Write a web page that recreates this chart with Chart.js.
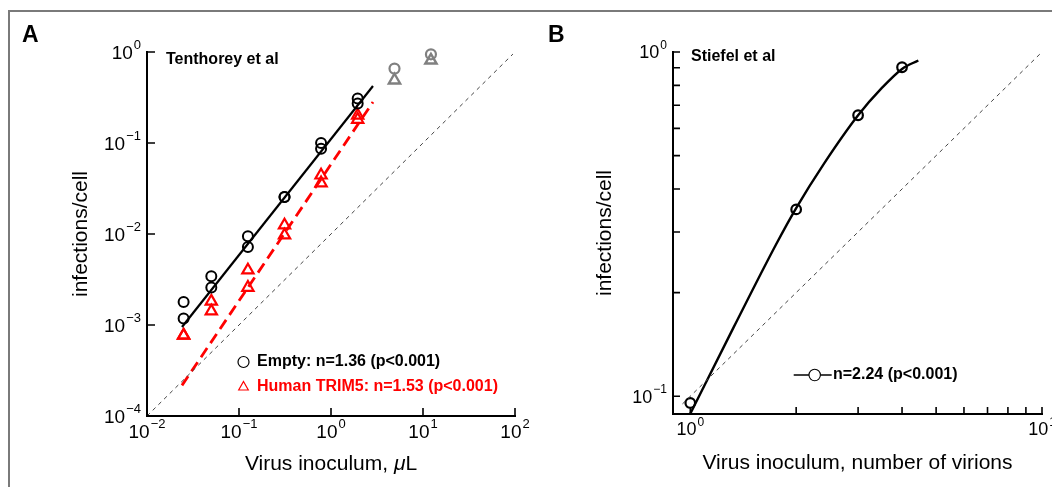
<!DOCTYPE html>
<html>
<head>
<meta charset="utf-8">
<script src="https://cdn.jsdelivr.net/npm/chart.js@4.4.1/dist/chart.umd.min.js"></script>
<style>
  body { margin: 0; background: #fff; }
  #figure { position: relative; width: 1052px; height: 487px; overflow: hidden; background: #fff; }
  #frame { position: absolute; left: 8px; top: 10px; width: 1200px; height: 700px; border: 2px solid #7a7a7a; box-sizing: border-box; }
  #chartA { position: absolute; left: 0; top: 0; }
  #chartB { position: absolute; left: 540px; top: 0; }
  .letter { position: absolute; top: 21px; font: bold 23px "Liberation Sans", Arial, sans-serif; color: #000; }
</style>
</head>
<body>
<div id="figure">
  <div id="frame"></div>
  <canvas id="chartA" width="540" height="487"></canvas>
  <canvas id="chartB" width="512" height="487"></canvas>
  <div class="letter" style="left:22px">A</div>
  <div class="letter" style="left:548px">B</div>
</div>

<script>
// ---- Panel A data (Tenthorey et al) ----
const doseA = [0.025, 0.05, 0.125, 0.3125, 0.78, 1.95];
const emptyRep1 = [0.00179, 0.00343, 0.00944, 0.0255, 0.100, 0.308];
const emptyRep2 = [0.00118, 0.00258, 0.00720, 0.0255, 0.0867, 0.271];
const trimRep1 = [0.00077, 0.00182, 0.0040, 0.0125, 0.0442, 0.2015];
const trimRep2 = [0.00077, 0.00142, 0.00258, 0.0097, 0.0363, 0.181];
// saturated points left out of the fit (grey)
const doseOut = [4.9, 12.2];
const emptyOut = [0.657, 0.944];
const trimOut = [0.489, 0.811];
// fitted lines (end points)
const fitX = [0.024, 2.86];
const fitEmpty = [0.00095, 0.423];
const fitTrim = [0.000217, 0.282];
// one-hit reference line
const refAX = [0.01, 95];
const refAY = [0.0001, 0.95];

// ---- Panel B data (Stiefel et al) ----
const doseB = [1, 2, 3, 4];
const infB = [0.0956, 0.349, 0.655, 0.903];
const curveBX = [1.0, 1.33, 1.75, 2.0, 2.4, 3.0, 3.5, 4.0, 4.45];
const curveBY = [0.089, 0.159, 0.275, 0.352, 0.474, 0.655, 0.785, 0.893, 0.945];
const refBX = [0.95, 10];
const refBY = [0.095, 1];

// ---- tick values ----
const ticksAX = [0.01, 0.1, 1, 10, 100];
const ticksAY = [0.0001, 0.001, 0.01, 0.1, 1];
const ticksBX = [1, 2, 3, 4, 5, 6, 7, 8, 9, 10];
const ticksBY = [0.1, 0.2, 0.3, 0.4, 0.5, 0.6, 0.7, 0.8, 0.9, 1];

const FONT = '"Liberation Sans", Arial, sans-serif';

function pairs(xs, ys) {
    return xs.map((x, i) => ({ x: x, y: ys[i] }));
}

// exponent if v is a power of ten, otherwise null
function powerOf(v) {
    const e = Math.log10(v);
    const r = Math.round(e);
    return Math.abs(e - r) < 1e-6 ? r : null;
}

// log axis with fixed box size so the plot area lands where the figure has it
function logAxis(o) {
    return {
        type: 'logarithmic',
        min: o.min,
        max: o.max,
        afterBuildTicks: s => { s.ticks = o.ticks.map(v => ({ value: v })); },
        afterFit: s => {
            if (o.width) s.width = o.width;
            if (o.height) s.height = o.height;
            s.paddingLeft = 0; s.paddingRight = 0; s.paddingTop = 0; s.paddingBottom = 0;
        },
        grid: { display: false, drawTicks: false },
        border: { display: true, color: '#000', width: 2 },
        ticks: { display: false },
        title: {
            display: !!o.title, text: o.title, color: '#000',
            font: { family: FONT, size: 21 },
            padding: o.titlePad
        }
    };
}

// draws "10" with a raised exponent
function drawPower(ctx, e, x, midY, align, size) {
    const base = '10';
    const exp = (e < 0 ? '\u2212' : '') + Math.abs(e);
    const expSize = Math.round(size * 0.68);
    ctx.font = size + 'px ' + FONT;
    const wb = ctx.measureText(base).width;
    ctx.font = expSize + 'px ' + FONT;
    const we = ctx.measureText(exp).width;
    const total = wb + we + 1;
    const left = align === 'right' ? x - total : x - total / 2;
    const baseline = midY + size * 0.36;
    ctx.textAlign = 'left';
    ctx.textBaseline = 'alphabetic';
    ctx.font = size + 'px ' + FONT;
    ctx.fillText(base, left, baseline);
    ctx.font = expSize + 'px ' + FONT;
    ctx.fillText(exp, left + wb + 1, baseline - size * 0.52);
}

// tick marks inside the axes, and power-of-ten labels outside
const logTicks = {
    id: 'logTicks',
    afterDraw(chart, args, opts) {
        const ctx = chart.ctx;
        const area = chart.chartArea;
        const xs = chart.scales.x, ys = chart.scales.y;
        ctx.save();
        ctx.strokeStyle = '#000';
        ctx.lineWidth = 1.6;
        ctx.beginPath();
        xs.ticks.forEach(t => {
            const px = xs.getPixelForValue(t.value);
            ctx.moveTo(px, area.bottom);
            ctx.lineTo(px, area.bottom - opts.length);
        });
        ys.ticks.forEach(t => {
            const py = ys.getPixelForValue(t.value);
            ctx.moveTo(area.left, py);
            ctx.lineTo(area.left + opts.length, py);
        });
        ctx.stroke();
        ctx.fillStyle = '#000';
        xs.ticks.forEach(t => {
            const e = powerOf(t.value);
            if (e === null) return;
            drawPower(ctx, e, xs.getPixelForValue(t.value), area.bottom + opts.xGap, 'center', opts.size);
        });
        ys.ticks.forEach(t => {
            const e = powerOf(t.value);
            if (e === null) return;
            drawPower(ctx, e, area.left - 6, ys.getPixelForValue(t.value), 'right', opts.size);
        });
        ctx.restore();
    }
};

// panel captions, hand-placed legends and a mixed-style axis title
const notes = {
    id: 'notes',
    afterDraw(chart, args, opts) {
        const ctx = chart.ctx;
        (opts.items || []).forEach(n => {
            ctx.save();
            ctx.strokeStyle = n.color;
            ctx.fillStyle = n.color;
            ctx.lineWidth = 1.2;
            if (n.marker === 'circle') {
                ctx.beginPath();
                ctx.arc(n.mx, n.y, 5.5, 0, Math.PI * 2);
                ctx.stroke();
            } else if (n.marker === 'triangle') {
                ctx.beginPath();
                ctx.moveTo(n.mx, n.y - 5.5);
                ctx.lineTo(n.mx + 4.8, n.y + 3);
                ctx.lineTo(n.mx - 4.8, n.y + 3);
                ctx.closePath();
                ctx.stroke();
            } else if (n.marker === 'lineCircle') {
                ctx.lineWidth = 1.6;
                ctx.beginPath();
                ctx.moveTo(n.mx - 21, n.y);
                ctx.lineTo(n.mx - 5.7, n.y);
                ctx.moveTo(n.mx + 5.7, n.y);
                ctx.lineTo(n.mx + 17, n.y);
                ctx.stroke();
                ctx.lineWidth = 1.1;
                ctx.beginPath();
                ctx.arc(n.mx, n.y, 5.7, 0, Math.PI * 2);
                ctx.stroke();
            }
            ctx.font = 'bold 16px ' + FONT;
            ctx.textBaseline = 'middle';
            ctx.fillText(n.text, n.x, n.y);
            ctx.restore();
        });
        // x title with an italic mu
        if (opts.xTitle) {
            const t = opts.xTitle;
            const area = chart.chartArea;
            const cx = (area.left + area.right) / 2;
            ctx.save();
            ctx.fillStyle = '#000';
            ctx.textBaseline = 'middle';
            const parts = t.parts.map(p => {
                ctx.font = (p.italic ? 'italic ' : '') + '21px ' + FONT;
                return { text: p.text, font: ctx.font, w: ctx.measureText(p.text).width };
            });
            let x = cx - parts.reduce((s, p) => s + p.w, 0) / 2;
            parts.forEach(p => {
                ctx.font = p.font;
                ctx.fillText(p.text, x, t.y);
                x += p.w;
            });
            ctx.restore();
        }
    }
};

// ---- Panel A ----
new Chart(document.getElementById('chartA'), {
    type: 'scatter',
    data: {
        datasets: [
            { data: pairs(refAX, refAY), showLine: true, borderColor: '#444', borderWidth: 1, borderDash: [4, 4], pointRadius: 0, clip: false },
            { data: pairs(fitX, fitEmpty), showLine: true, borderColor: '#000', borderWidth: 2.2, pointRadius: 0, clip: false },
            { data: pairs(fitX, fitTrim), showLine: true, borderColor: '#ff0000', borderWidth: 2.8, borderDash: [11, 6], pointRadius: 0, clip: false },
            { data: pairs(doseA, emptyRep1), pointStyle: 'circle', pointRadius: 5, borderColor: '#000', borderWidth: 2, backgroundColor: 'rgba(0,0,0,0)', clip: false },
            { data: pairs(doseA, emptyRep2), pointStyle: 'circle', pointRadius: 5, borderColor: '#000', borderWidth: 2, backgroundColor: 'rgba(0,0,0,0)', clip: false },
            { data: pairs(doseA, trimRep1), pointStyle: 'triangle', pointRadius: 6.5, borderColor: '#ff0000', borderWidth: 2.2, backgroundColor: 'rgba(0,0,0,0)', clip: false },
            { data: pairs(doseA, trimRep2), pointStyle: 'triangle', pointRadius: 6.5, borderColor: '#ff0000', borderWidth: 2.2, backgroundColor: 'rgba(0,0,0,0)', clip: false },
            { data: pairs(doseOut, emptyOut), pointStyle: 'circle', pointRadius: 5, borderColor: '#808080', borderWidth: 2.2, backgroundColor: 'rgba(0,0,0,0)', clip: false },
            { data: pairs(doseOut, trimOut), pointStyle: 'triangle', pointRadius: 6.5, borderColor: '#808080', borderWidth: 2.4, backgroundColor: 'rgba(0,0,0,0)', clip: false }
        ]
    },
    options: {
        responsive: false,
        animation: false,
        layout: { padding: { left: 0, right: 25, top: 52, bottom: 0 } },
        scales: {
            x: logAxis({ min: 0.01, max: 100, ticks: ticksAX, height: 71 }),
            y: logAxis({ min: 0.0001, max: 1, ticks: ticksAY, width: 147, title: 'infections/cell', titlePad: { top: 69 } })
        },
        plugins: {
            legend: { display: false },
            tooltip: { enabled: false },
            logTicks: { length: 8, size: 19, xGap: 15 },
            notes: {
                items: [
                    { text: 'Tenthorey et al', x: 166, y: 60, color: '#000' },
                    { text: 'Empty: n=1.36 (p<0.001)', x: 257, y: 362, color: '#000', marker: 'circle', mx: 243.5 },
                    { text: 'Human TRIM5: n=1.53 (p<0.001)', x: 257, y: 387, color: '#ff0000', marker: 'triangle', mx: 243.5 }
                ],
                xTitle: { y: 464, parts: [{ text: 'Virus inoculum, ' }, { text: '\u03BC', italic: true }, { text: 'L' }] }
            }
        }
    },
    plugins: [logTicks, notes]
});

// ---- Panel B ----
new Chart(document.getElementById('chartB'), {
    type: 'scatter',
    data: {
        datasets: [
            { data: pairs(refBX, refBY), showLine: true, borderColor: '#444', borderWidth: 1, borderDash: [4, 4], pointRadius: 0, clip: false },
            { data: pairs(curveBX, curveBY), showLine: true, borderColor: '#000', borderWidth: 2.4, cubicInterpolationMode: 'monotone', pointRadius: 0, clip: false },
            { data: pairs(doseB, infB), pointStyle: 'circle', pointRadius: 4.8, borderColor: '#000', borderWidth: 2.2, backgroundColor: '#fff', clip: false }
        ]
    },
    options: {
        responsive: false,
        animation: false,
        layout: { padding: { left: 0, right: 10, top: 52, bottom: 0 } },
        scales: {
            x: logAxis({ min: 0.893, max: 10, ticks: ticksBX, height: 73, title: 'Virus inoculum, number of virions', titlePad: { bottom: 11 } }),
            y: logAxis({ min: 0.0888, max: 1, ticks: ticksBY, width: 133, title: 'infections/cell', titlePad: { top: 53 } })
        },
        plugins: {
            legend: { display: false },
            tooltip: { enabled: false },
            logTicks: { length: 7, size: 18, xGap: 15 },
            notes: {
                items: [
                    { text: 'Stiefel et al', x: 151, y: 57, color: '#000' },
                    { text: 'n=2.24 (p<0.001)', x: 293, y: 375, color: '#000', marker: 'lineCircle', mx: 274.7 }
                ]
            }
        }
    },
    plugins: [logTicks, notes]
});
</script>
</body>
</html>
